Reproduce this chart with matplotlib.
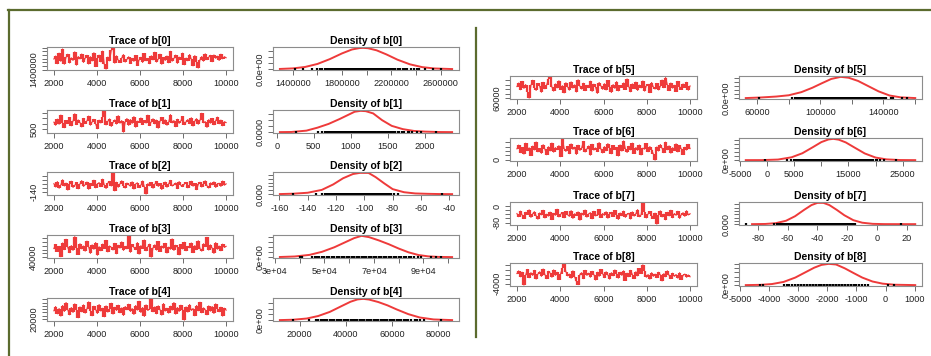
import matplotlib.pyplot as plt
from matplotlib.lines import Line2D
import numpy as np

plt.rcParams['font.family'] = ['Liberation Sans', 'DejaVu Sans']

# MCMC chains (thinned), iterations 2000..10000
iter_start, iter_end = 2000, 10000

b0 = np.array([1980, 2150, 1720, 2310, 1850, 2540, 1690, 2080, 2250, 1760,
               2050, 1900, 2380, 1640, 2120, 1980, 2260, 1790, 2030, 2190,
               1700, 2110, 1870, 2330, 1560, 2010, 2200, 1820, 2420, 1680,
               1420, 2090, 1880, 2470, 2600, 1750, 2160, 1910, 1780, 2040,
               2230, 1810, 1960, 2110, 1730, 2020, 1850, 2180, 1620, 1940,
               2080, 1790, 2290, 1880, 2020, 1720, 2160, 1930, 2360, 1810,
               1980, 2250, 1690, 2070, 1900, 2150, 1770, 2410, 1860, 2010,
               2200, 1740, 2090, 1950, 2310, 1660, 2040, 1880, 2230, 1970,
               1600, 2170, 1800, 1480, 1950, 2120, 1860, 2270, 1940, 2080,
               2190, 1830, 2210, 2020, 2140, 1900, 2250, 1990, 2110, 2050]) * 1000
b1 = np.array([1150, 870, 1420, 960, 1780, 1080, 650, 1300, 1010, 1560,
               820, 1240, 1890, 930, 1350, 1110, 720, 1480, 1020, 1260,
               1690, 880, 1170, 1400, 990, 560, 1330, 1070, 1600, 2150,
               900, 1210, 1440, 770, 1130, 1350, 980, 1720, 1050, 1290,
               260, 1180, 1470, 860, 1380, 1040, 1640, 700, 1240, 1110,
               1520, 930, 1300, 1060, 1770, 840, 1190, 1450, 990, 1330,
               610, 1220, 1570, 1000, 1360, 870, 1150, 1820, 1080, 1290,
               740, 1410, 1040, 1260, 1650, 920, 1180, 1380, 1010, 1540,
               800, 1230, 1460, 960, 1310, 1940, 1090, 1200, 680, 1370,
               1050, 1480, 910, 1270, 1600, 1000, 1340, 820, 1190, 1110])
b2 = np.array([-98, -115, -88, -121, -104, -79, -110, -95, -130, -101,
               -86, -117, -107, -92, -124, -99, -83, -112, -103, -90,
               -126, -97, -108, -81, -119, -100, -93, -113, -76, -105,
               -122, -96, -87, -110, -45, -134, -91, -116, -99, -84,
               -108, -120, -95, -103, -111, -89, -125, -100, -94, -118,
               -106, -85, -114, -150, -98, -109, -92, -121, -101, -87,
               -112, -97, -127, -104, -90, -116, -99, -82, -110, -103,
               -95, -123, -88, -107, -113, -100, -92, -119, -105, -86,
               -111, -97, -128, -102, -91, -115, -99, -84, -108, -120,
               -94, -104, -89, -117, -101, -96, -112, -85, -106, -99])
b3 = np.array([63, 74, 55, 69, 41, 78, 60, 88, 66, 52,
               71, 58, 95, 64, 47, 76, 62, 70, 56, 83,
               67, 50, 73, 61, 79, 45, 68, 57, 75, 63,
               85, 54, 70, 66, 59, 77, 49, 72, 64, 81,
               58, 69, 62, 97, 53, 74, 66, 60, 79, 48,
               71, 63, 86, 57, 68, 75, 40, 65, 73, 59,
               82, 55, 70, 64, 77, 51, 67, 61, 89, 58,
               72, 66, 46, 74, 62, 80, 57, 69, 65, 78,
               52, 71, 60, 84, 63, 56, 76, 68, 93, 59,
               73, 64, 50, 79, 61, 70, 57, 75, 66, 69]) * 1000
b4 = np.array([45, 58, 36, 52, 29, 61, 43, 70, 48, 33,
               55, 40, 66, 47, 24, 57, 42, 63, 38, 51,
               72, 45, 30, 59, 49, 37, 64, 44, 53, 27,
               60, 41, 50, 68, 35, 56, 46, 62, 39, 54,
               31, 58, 48, 65, 43, 52, 34, 61, 47, 74,
               40, 55, 28, 63, 46, 51, 81, 42, 57, 36,
               60, 49, 32, 67, 44, 53, 38, 59, 47, 70,
               35, 55, 43, 62, 49, 17, 57, 41, 64, 46,
               52, 30, 61, 45, 71, 39, 54, 48, 33, 60,
               44, 58, 37, 66, 50, 42, 56, 29, 53, 47]) * 1000
b5 = np.array([112, 128, 98, 135, 104, 121, 90, 61, 117, 140,
               108, 95, 126, 114, 87, 131, 102, 119, 145, 155,
               110, 92, 124, 106, 138, 99, 116, 84, 129, 111,
               96, 133, 105, 120, 88, 142, 113, 101, 127, 94,
               118, 107, 136, 91, 123, 109, 82, 130, 115, 100,
               125, 97, 139, 112, 86, 121, 104, 134, 93, 117,
               108, 128, 99, 146, 111, 89, 124, 103, 132, 95,
               119, 106, 137, 92, 116, 122, 85, 130, 110, 101,
               126, 97, 114, 141, 107, 152, 120, 94, 128, 105,
               118, 90, 135, 112, 99, 124, 108, 131, 96, 115]) * 1000
b6 = np.array([12.5, 16.8, 8.2, 14.1, 6.5, 18.9, 10.4, 13.7, 4.9, 15.6,
               11.2, 20.3, 9.1, 13.0, 7.4, 17.2, 12.0, 5.8, 14.9, 10.1,
               19.1, 8.7, 13.9, 11.5, 16.1, 3.6, 23.8, 12.8, 9.6, 15.3,
               7.0, 18.1, 11.9, 14.5, 6.2, 16.6, 10.7, 13.3, 20.9, 8.9,
               12.4, 15.8, 5.3, 17.7, 11.0, 13.6, 9.4, 19.6, 12.2, 7.8,
               15.0, 10.3, 18.4, 13.1, 6.9, 16.3, 11.6, 14.2, 4.4, 17.0,
               9.9, 21.5, 12.6, 8.4, 15.4, 11.3, 19.0, 7.2, 14.0, 10.8,
               16.9, 5.6, 13.4, 12.1, 18.6, 9.2, 15.1, 11.7, 6.6, -0.3,
               14.7, 10.0, 17.4, 12.9, 8.1, 20.1, 11.4, 15.9, 7.6, 13.8,
               10.5, 18.2, 9.0, 16.4, 12.3, 6.0, 14.4, 11.1, 17.6, 12.7]) * 1000
b7 = np.array([-36, -52, -24, -44, -61, -30, -41, -18, -55, -38,
               -27, -47, -64, -33, -43, -20, -58, -39, -49, -29,
               -66, -35, -45, -15, -53, -40, -31, -57, -26, -42,
               -50, -22, -60, -37, -46, -28, -69, -34, -44, -19,
               -54, -38, -32, -62, -25, -48, -41, -16, -56, -36,
               -45, -27, -59, -39, -30, -51, -21, -43, -65, -33,
               -47, -24, -55, -40, -35, -63, -28, -49, -37, -17,
               -52, -42, 16, -31, -58, -38, -26, -46, -61, -34,
               -88, -44, -23, -53, -39, -67, -30, -48, -20, -57,
               -36, -45, -25, -60, -41, -32, -50, -22, -43, -37])
b8 = np.array([-1800, -1200, -2500, -1500, -4300, -2100, -900, -2700, -1600, -2200,
               -1100, -3000, -1900, -1400, -2400, -800, -2000, -2900, -1300, -1700,
               -2600, -1000, -2200, -1500, -3100, -1800, -600, 300, -1400, -2300,
               -1900, -2800, -1200, -2500, -3500, -4200, -2000, -1600, -2900, -1100,
               -2200, -1700, -2600, -1300, -2000, -3200, -1500, -2400, -900, -1800,
               -2700, -1400, -2100, -3000, -1600, -2300, -1000, -1900, -2800, -1500,
               -2200, -1200, -3300, -1700, -2500, -1100, -2000, -2900, -1400, -2300,
               -700, -1800, 100, -1300, -2600, -2000, -3000, -1600, -2400, -1900,
               -2700, -1500, -2100, -3400, -1800, -2500, -1200, -2200, -2900, -1700,
               -2400, -2000, -2800, -1600, -3100, -2200, -1900, -2600, -2100, -2500])

# kernel density estimates
d0_x = np.array([1296, 1400, 1500, 1600, 1700, 1800, 1880, 1940, 1970, 2010,
                 2080, 2160, 2250, 2350, 2450, 2550, 2692]) * 1000
d0_y = np.array([0.017, 0.063, 0.185, 0.44, 0.85, 1.34, 1.67, 1.79, 1.81, 1.78,
                 1.60, 1.25, 0.80, 0.41, 0.17, 0.056, 0.008]) * 1e-6
d1_x = np.array([43, 200, 400, 550, 700, 850, 950, 1050, 1130, 1200, 1300, 1420,
                 1550, 1700, 1850, 2000, 2200, 2364])
d1_y = np.array([0.003, 0.012, 0.10, 0.30, 0.55, 0.88, 1.12, 1.36, 1.42, 1.40,
                 1.25, 0.80, 0.42, 0.20, 0.08, 0.035, 0.008, 0.002]) * 1e-3
d2_x = np.array([-159.6, -150, -140, -130, -122, -115, -108, -103, -97, -92,
                 -86, -80, -72, -64, -55, -46, -38])
d2_y = np.array([0.1, 0.6, 1.8, 5.5, 12.5, 20.5, 26.0, 27.5, 27.4, 22.0,
                 14.0, 6.5, 2.5, 0.9, 0.4, 0.1, 0.02]) * 1e-3
d3_x = np.array([32, 38, 44, 49, 54, 58, 62, 65, 68, 72, 76, 80, 84, 88, 92,
                 96, 101.6]) * 1000
d3_y = np.array([0.03, 0.13, 0.45, 1.05, 1.95, 2.85, 3.75, 4.20, 3.95, 3.30,
                 2.55, 1.70, 0.95, 0.42, 0.15, 0.05, 0.01]) * 1e-5
d4_x = np.array([11.4, 17, 23, 28, 33, 38, 42, 45, 47.5, 50, 54, 58, 62, 67,
                 72, 78, 86]) * 1000
d4_y = np.array([0.01, 0.07, 0.28, 0.72, 1.43, 2.42, 3.20, 3.60, 3.70, 3.58,
                 3.15, 2.57, 1.86, 1.05, 0.46, 0.12, 0.01]) * 1e-5
d5_x = np.array([52.7, 62, 72, 80, 88, 95, 101, 107, 113, 118, 124, 130, 137,
                 144, 151, 160.3]) * 1000
d5_y = np.array([0.01, 0.08, 0.20, 0.36, 0.75, 1.30, 1.86, 2.40, 2.66, 2.55,
                 2.15, 1.55, 0.85, 0.33, 0.10, 0.01]) * 1e-5
d6_x = np.array([-3935, -1000, 2000, 4500, 6500, 8500, 10000, 11300, 12200,
                 13200, 14500, 16000, 18000, 20000, 22000, 24500, 27310])
d6_y = np.array([0.01, 0.02, 0.29, 1.4, 3.4, 6.5, 8.9, 10.2, 10.5, 10.1, 8.75,
                 6.4, 3.3, 1.28, 0.38, 0.06, 0.005]) * 1e-5
d7_x = np.array([-83.8, -75, -68, -61, -55, -49, -44, -40, -36, -32, -27, -22,
                 -16, -10, -3, 5, 14, 25.5])
d7_y = np.array([0.02, 0.29, 1.45, 5.2, 12.1, 21.7, 29.1, 32.5, 32.5, 29.1,
                 21.7, 13.6, 6.1, 2.2, 0.47, 0.05, 0.01, 0.002]) * 1e-3
d8_x = np.array([-4800, -4300, -3900, -3500, -3100, -2750, -2450, -2200, -1950,
                 -1700, -1400, -1100, -800, -450, -100, 300, 1019])
d8_y = np.array([0.01, 0.07, 0.26, 0.76, 1.78, 3.03, 4.1, 4.76, 5.0, 4.85,
                 3.95, 2.85, 1.78, 0.86, 0.35, 0.1, 0.01]) * 1e-4

names = ['b[0]', 'b[1]', 'b[2]', 'b[3]', 'b[4]', 'b[5]', 'b[6]', 'b[7]', 'b[8]']
traces = [b0, b1, b2, b3, b4, b5, b6, b7, b8]
dens_x = [d0_x, d1_x, d2_x, d3_x, d4_x, d5_x, d6_x, d7_x, d8_x]
dens_y = [d0_y, d1_y, d2_y, d3_y, d4_y, d5_y, d6_y, d7_y, d8_y]

trace_xticks = [2000, 4000, 6000, 8000, 10000]
trace_yticks = [
    [1400000, 1600000, 1800000, 2000000, 2200000, 2400000, 2600000],
    [500, 1000, 1500, 2000],
    [-140, -120, -100, -80, -60],
    [40000, 50000, 60000, 70000, 80000, 90000],
    [20000, 30000, 40000, 50000, 60000, 70000, 80000],
    [60000, 80000, 100000, 120000, 140000],
    [0, 5000, 10000, 15000, 20000],
    [-80, -60, -40, -20, 0],
    [-4000, -3000, -2000, -1000, 0],
]
trace_ylabels = [
    ['1400000'], ['500'], ['-140'], ['40000'], ['20000'], ['60000'], ['0'],
    ['-80', '', '', '', '0'], ['-4000'],
]
dens_xticks = [
    [1400000, 1600000, 1800000, 2000000, 2200000, 2400000, 2600000],
    [0, 500, 1000, 1500, 2000],
    [-160, -140, -120, -100, -80, -60, -40],
    [30000, 40000, 50000, 60000, 70000, 80000, 90000, 100000],
    [20000, 40000, 60000, 80000],
    [60000, 80000, 100000, 120000, 140000, 160000],
    [-5000, 0, 5000, 10000, 15000, 20000, 25000],
    [-80, -60, -40, -20, 0, 20],
    [-5000, -4000, -3000, -2000, -1000, 0, 1000],
]
dens_xlabels = [
    ['1400000', '', '1800000', '', '2200000', '', '2600000'],
    ['0', '500', '1000', '1500', '2000'],
    ['-160', '-140', '-120', '-100', '-80', '-60', '-40'],
    ['3e+04', '', '5e+04', '', '7e+04', '', '9e+04', ''],
    ['20000', '40000', '60000', '80000'],
    ['60000', '', '100000', '', '140000', ''],
    ['-5000', '0', '5000', '', '15000', '', '25000'],
    ['-80', '-60', '-40', '-20', '0', '20'],
    ['-5000', '-4000', '-3000', '-2000', '-1000', '0', '1000'],
]
dens_yticks = [
    [0, 5e-7, 1e-6, 1.5e-6],
    [0, 0.0004, 0.0008, 0.0012],
    [0, 0.005, 0.010, 0.015, 0.020, 0.025],
    [0, 1e-5, 2e-5, 3e-5, 4e-5],
    [0, 1e-5, 2e-5, 3e-5],
    [0, 5e-6, 1e-5, 1.5e-5, 2e-5, 2.5e-5],
    [0, 2e-5, 4e-5, 6e-5, 8e-5, 1e-4],
    [0, 0.005, 0.010, 0.015, 0.020, 0.025, 0.030],
    [0, 1e-4, 2e-4, 3e-4, 4e-4, 5e-4],
]
dens_ylabel = ['0.0e+00', '0.0000', '0.000', '0e+00', '0e+00', '0.0e+00',
               '0e+00', '0.000', '0e+00']

W, H = 931, 356
fig = plt.figure(figsize=(W / 100, H / 100), dpi=100)


def rect(x0, x1, top, h=23):
    return [x0 / W, 1 - (top + h) / H, (x1 - x0) / W, h / H]


def style(ax):
    for s in ax.spines.values():
        s.set_color('#8c8c8c')
        s.set_linewidth(0.8)
    ax.tick_params(length=3.5, width=0.6, color='#555555', labelsize=6.6,
                   pad=2.8, labelcolor='#222222')


def set_ticks(ax, xt, xl, yt, yl):
    xlim, ylim = ax.get_xlim(), ax.get_ylim()
    ax.set_xticks(xt)
    ax.set_xticklabels(xl)
    ax.set_yticks(yt)
    ax.set_yticklabels(yl + [''] * (len(yt) - len(yl)), rotation=90, va='center')
    ax.set_xlim(xlim)
    ax.set_ylim(ylim)


left_rows = [47, 110, 172, 235, 298]
right_rows = [76, 138, 202, 263]
slots = [(47, 233, 273, 459, t) for t in left_rows] + \
        [(510, 697, 739, 922, t) for t in right_rows]

red = '#ee3a3a'
for i, (tx0, tx1, dx0, dx1, top) in enumerate(slots):
    vals = traces[i]
    iters = np.linspace(iter_start, iter_end, len(vals))

    ax = fig.add_axes(rect(tx0, tx1, top))
    # each jump between successive draws as a vertical stroke -> dense band
    mid = (iters[:-1] + iters[1:]) / 2
    ax.vlines(mid, np.minimum(vals[:-1], vals[1:]), np.maximum(vals[:-1], vals[1:]),
              color=red, lw=1.6)
    ax.plot(iters, vals, color=red, lw=0.8)
    ax.margins(x=0.04, y=0.04)
    style(ax)
    set_ticks(ax, trace_xticks, [str(v) for v in trace_xticks],
              trace_yticks[i], trace_ylabels[i])
    ax.set_title('Trace of ' + names[i], fontsize=7.5, fontweight='bold', pad=2.5)

    ax = fig.add_axes(rect(dx0, dx1, top))
    ax.plot(dens_x[i], dens_y[i], color=red, lw=1.4)
    ax.plot(vals, np.zeros_like(vals, dtype=float), '|', color='k', ms=2.0, mew=1.6)
    ax.margins(x=0.04, y=0.04)
    style(ax)
    set_ticks(ax, dens_xticks[i], dens_xlabels[i], dens_yticks[i], [dens_ylabel[i]])
    ax.set_title('Density of ' + names[i], fontsize=7.5, fontweight='bold', pad=2.5)

# olive frame lines around the two panels
green = '#5b6b2e'
fig.add_artist(Line2D([8 / W, 1], [1 - 10 / H, 1 - 10 / H], color=green, lw=1.6))
fig.add_artist(Line2D([8.5 / W, 8.5 / W], [1 - 10 / H, 0], color=green, lw=1.6))
fig.add_artist(Line2D([476 / W, 476 / W], [1 - 28 / H, 1 - 337 / H], color=green, lw=1.6))

fig.savefig('out.png', dpi=100, facecolor='white')
